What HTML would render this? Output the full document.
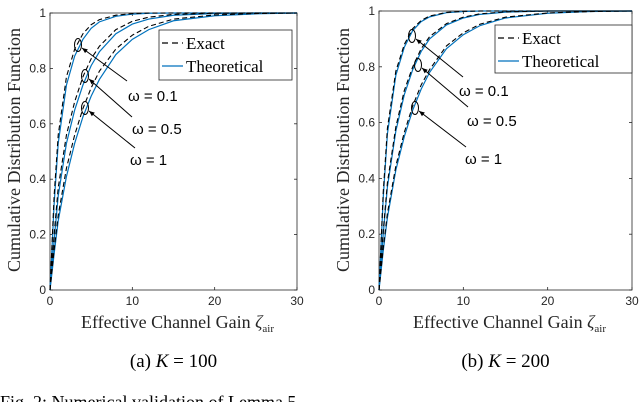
<!DOCTYPE html>
<html><head><meta charset="utf-8"><style>
body{margin:0;background:#fff;}
svg{display:block;}
text{font-family:"Liberation Sans",sans-serif;}
.serif{font-family:"Liberation Serif",serif;}
</style></head><body>
<svg id="fig" width="640" height="402" viewBox="0 0 640 402"></svg>
<script>
const xs=[0,0.5,1,2,3,4,5,6,8,10,12,15,20,25,30];
const leftThA=[0,0.31,0.53,0.74,0.845,0.905,0.945,0.968,0.988,0.996,0.999,1,1,1,1];
const leftExA=[0,0.34,0.56,0.77,0.87,0.925,0.958,0.976,0.992,0.998,1,1,1,1,1];
const leftThB=[0,0.18,0.34,0.53,0.65,0.74,0.81,0.86,0.925,0.96,0.978,0.992,0.998,1,1];
const leftExB=[0,0.2,0.37,0.56,0.68,0.77,0.835,0.88,0.94,0.97,0.985,0.995,0.999,1,1];
const leftThC=[0,0.13,0.25,0.41,0.53,0.625,0.70,0.76,0.85,0.905,0.94,0.972,0.99,0.997,1];
const leftExC=[0,0.145,0.27,0.44,0.56,0.655,0.73,0.79,0.87,0.92,0.952,0.978,0.993,0.998,1];
const rightThA=[0,0.33,0.56,0.77,0.87,0.93,0.962,0.979,0.994,0.998,1,1,1,1,1];
const rightExA=[0,0.35,0.58,0.785,0.88,0.937,0.966,0.982,0.995,0.999,1,1,1,1,1];
const rightThB=[0,0.2,0.37,0.57,0.70,0.79,0.855,0.90,0.95,0.975,0.988,0.996,1,1,1];
const rightExB=[0,0.21,0.385,0.585,0.715,0.80,0.865,0.908,0.955,0.978,0.99,0.997,1,1,1];
const rightThC=[0,0.14,0.26,0.43,0.55,0.645,0.72,0.78,0.865,0.915,0.948,0.975,0.992,0.998,1];
const rightExC=[0,0.15,0.275,0.445,0.565,0.66,0.735,0.79,0.875,0.922,0.953,0.978,0.993,0.998,1];
const xTicks=[0,10,20,30];
const yTicks=[0,0.2,0.4,0.6,0.8,1];
const yTickLabels=["0","0.2","0.4","0.6","0.8","1"];
const omegaLabels=["\u03C9 = 0.1","\u03C9 = 0.5","\u03C9 = 1"];

const NS="http://www.w3.org/2000/svg";
const svg=document.getElementById('fig');
function mk(tag,attrs,parent){const e=document.createElementNS(NS,tag);for(const k in attrs)e.setAttribute(k,attrs[k]);(parent||svg).appendChild(e);return e;}

function panel(cfg){
  const g=mk('g',{});
  
  
  const X=v=>cfg.x0+(v/30)*(cfg.x1-cfg.x0);
  const Y=v=>cfg.y0-(v)*(cfg.y0-cfg.y1);
  const box=mk('rect',{x:cfg.x0,y:cfg.y1,width:cfg.x1-cfg.x0,height:cfg.y0-cfg.y1,fill:'#fff',stroke:'#262626','stroke-width':0.8},g);
  
  
  xTicks.forEach(t=>{
    mk('line',{x1:X(t),x2:X(t),y1:cfg.y0,y2:cfg.y0-3,stroke:'#262626','stroke-width':0.8},g);
    mk('line',{x1:X(t),x2:X(t),y1:cfg.y1,y2:cfg.y1+3,stroke:'#262626','stroke-width':0.8},g);
    const tx=mk('text',{x:X(t),y:cfg.y0+15,'font-size':12,fill:'#262626','text-anchor':'middle'},g);
    tx.textContent=t;
    
    
  });
  yTicks.forEach((t,i)=>{
    mk('line',{x1:cfg.x0,x2:cfg.x0+3,y1:Y(t),y2:Y(t),stroke:'#262626','stroke-width':0.8},g);
    mk('line',{x1:cfg.x1,x2:cfg.x1-3,y1:Y(t),y2:Y(t),stroke:'#262626','stroke-width':0.8},g);
    const tx=mk('text',{x:cfg.x0-4,y:Y(t)+4,'font-size':12,fill:'#262626','text-anchor':'end'},g);
    tx.textContent=yTickLabels[i];
    
    
  });
  const path=arr=>arr.map((v,i)=>(i?'L':'M')+X(xs[i]).toFixed(2)+','+Y(v).toFixed(2)).join('');
  cfg.th.forEach((arr,i)=>{
    const p=mk('path',{d:path(arr),fill:'none',stroke:'#0072BD','stroke-width':1.2},g);
    
    
  });
  cfg.ex.forEach((arr,i)=>{
    const p=mk('path',{d:path(arr),fill:'none',stroke:'#000','stroke-width':1.1,'stroke-dasharray':'5,3'},g);
    
    
  });
  const L=cfg.leg;
  const lg=mk('g',{},g);
  
  
  mk('rect',{x:L.x,y:L.y,width:L.w,height:L.h,fill:'#fff',stroke:'#262626','stroke-width':0.8},lg);
  mk('line',{x1:L.x+3,x2:L.x+24,y1:L.y+13,y2:L.y+13,stroke:'#000','stroke-width':1.2,'stroke-dasharray':'6,4'},lg);
  mk('line',{x1:L.x+3,x2:L.x+24,y1:L.y+36,y2:L.y+36,stroke:'#0072BD','stroke-width':1.2},lg);
  const t1=mk('text',{x:L.x+27,y:L.y+19,'font-size':17,fill:'#000',class:'serif'},lg);t1.textContent='Exact';
  
  const t2=mk('text',{x:L.x+27,y:L.y+42,'font-size':17,fill:'#000',class:'serif'},lg);t2.textContent='Theoretical';
  
  cfg.ann.forEach((a,i)=>{
    const ag=mk('g',{},g);
    
    
    mk('ellipse',{cx:a.cx,cy:a.cy,rx:3.5,ry:6.5,fill:'none',stroke:'#000','stroke-width':1},ag);
    mk('line',{x1:a.ax,y1:a.ay,x2:a.cx+4,y2:a.cy+3,stroke:'#000','stroke-width':1},ag);
    const ang=Math.atan2(a.ay-(a.cy+3),a.ax-(a.cx+4));
    const hx=a.cx+4,hy=a.cy+3,s=6;
    mk('path',{d:`M${hx},${hy}L${hx+s*Math.cos(ang-0.4)},${hy+s*Math.sin(ang-0.4)}L${hx+s*Math.cos(ang+0.4)},${hy+s*Math.sin(ang+0.4)}Z`,fill:'#000'},ag);
    const t=mk('text',{x:a.tx,y:a.ty,'font-size':15,fill:'#000'},ag);t.textContent=omegaLabels[i];
  });
  const yl=mk('text',{x:0,y:0,'font-size':18,fill:'#262626',class:'serif','text-anchor':'middle',transform:`translate(${cfg.yl},150) rotate(-90)`},g);
  yl.textContent='Cumulative Distribution Function';
  
  const xl=mk('text',{x:(cfg.x0+cfg.x1)/2+4,y:328,'font-size':18,fill:'#262626',class:'serif','text-anchor':'middle'},g);
  xl.innerHTML='Effective Channel Gain <tspan font-style="italic">ζ</tspan><tspan font-size="11" dy="4">air</tspan>';
  
  const cap=mk('text',{x:(cfg.x0+cfg.x1)/2,y:367,'font-size':19,fill:'#000',class:'serif','text-anchor':'middle'},g);
  cap.innerHTML=cfg.cap;
  
}
panel({name:'left-panel',x0:50,x1:297,y0:290,y1:13,yl:20,th:[leftThA,leftThB,leftThC],ex:[leftExA,leftExB,leftExC],
  leg:{x:159,y:30,w:133,h:50},
  ann:[{cx:78,cy:45,ax:127,ay:81,tx:128,ty:101},{cx:85,cy:76,ax:132,ay:117,tx:132,ty:134},{cx:85,cy:108,ax:135,ay:148,tx:130,ty:165}],
  cap:'(a) <tspan font-style="italic">K</tspan> = 100'});
panel({name:'right-panel',x0:379,x1:632,y0:290,y1:11,yl:349,th:[rightThA,rightThB,rightThC],ex:[rightExA,rightExB,rightExC],
  leg:{x:495,y:25,w:137,h:48},
  ann:[{cx:412,cy:36,ax:463,ay:77,tx:459,ty:96},{cx:418,cy:65,ax:468,ay:107,tx:467,ty:126},{cx:415,cy:108,ax:466,ay:147,tx:465,ty:164}],
  cap:'(b) <tspan font-style="italic">K</tspan> = 200'});
const fc=mk('text',{x:0,y:408,'font-size':18,fill:'#000',class:'serif'});
fc.textContent='Fig. 2:  Numerical validation of Lemma 5.';


</script>
</body></html>
